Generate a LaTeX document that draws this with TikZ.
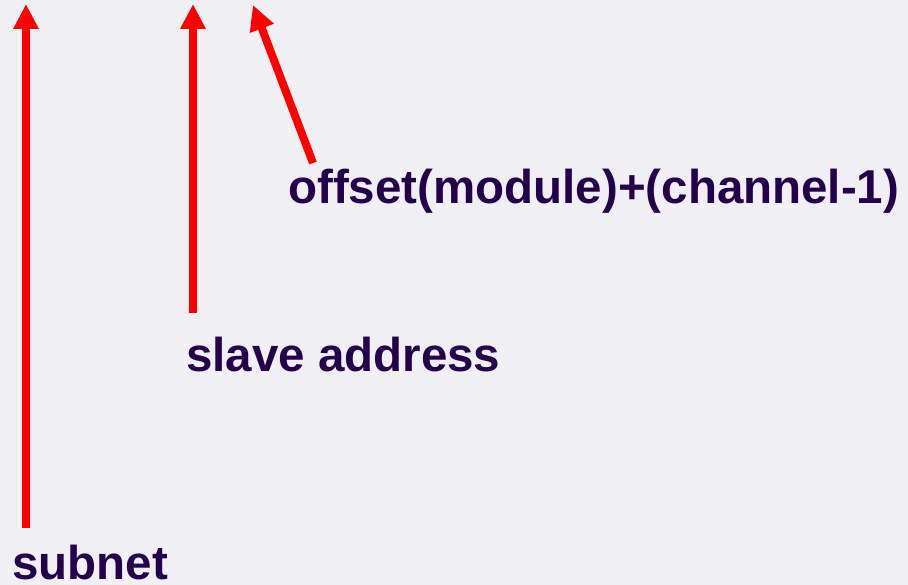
\documentclass[tikz,border=0pt]{standalone}
\usepackage{fontspec}
\setmainfont{Liberation Sans}
\usetikzlibrary{arrows.meta}
\definecolor{bgcol}{HTML}{EFEFF4}
\definecolor{txtcol}{HTML}{24004A}
\definecolor{arrcol}{HTML}{FF0000}
\begin{document}
\begin{tikzpicture}[x=1pt,y=-1pt,
  lbl/.style={anchor=base west,inner sep=0pt,text=txtcol,font=\fontsize{47.5}{57}\selectfont\bfseries},
  redarrow/.style={draw=arrcol,line width=8pt,-{Triangle[length=25pt,width=24pt]}}]
\fill[bgcol] (0,0) rectangle (908,585);
\useasboundingbox (0,0) rectangle (908,585);
\node[lbl] (offset) at (288,204) {offset(module)+(channel-1)};
\node[lbl] (slave) at (186,372) {slave address};
\node[lbl,text depth=0pt] (subnet) at (12,579) {subnet};
\coordinate (t1) at (26,4);
\coordinate (b1) at (26,528);
\coordinate (t2) at (193,4);
\coordinate (b2) at (193,313);
\coordinate (t3) at (253,5);
\coordinate (b3) at (313,163);
\draw[redarrow] (b1) -- (t1);
\draw[redarrow] (b2) -- (t2);
\draw[redarrow] (b3) -- (t3);
\end{tikzpicture}
\end{document}
